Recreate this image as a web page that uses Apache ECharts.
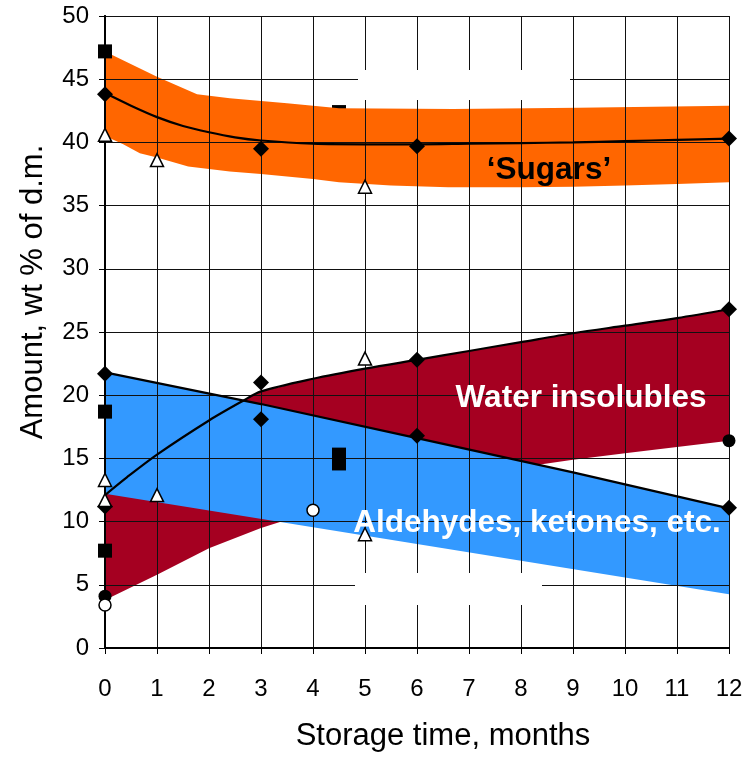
<!DOCTYPE html>
<html><head><meta charset="utf-8">
<script src="https://cdn.jsdelivr.net/npm/echarts@6/dist/echarts.min.js"></script>
<style>html,body{margin:0;padding:0;background:#fff}#c{width:754px;height:757px}</style>
</head><body><div id="c"></div>
<script>
// ---- axis
const xLabels = ['0','1','2','3','4','5','6','7','8','9','10','11','12'];
const yMin = 0, yMax = 50, yStep = 5;

// ---- 'Sugars' band
const sugHiX = [0, 1, 1.77, 2.4, 3.5, 4.5, 6.7, 9.1, 12];
const sugHiY = [47.2, 45.2, 43.8, 43.5, 43.1, 42.7, 42.65, 42.75, 42.9];
const sugLoX = [0, 0.35, 0.67, 1, 1.6, 2.4, 3, 4, 4.5, 5.5, 6.6, 8, 9, 10, 11, 12];
const sugLoY = [40.5, 39.85, 39.15, 38.8, 38.1, 37.7, 37.5, 37.1, 36.85, 36.6, 36.45, 36.45, 36.5, 36.6, 36.7, 36.85];
// 'Sugars' fitted curve
const sugCurveX = [0, 0.5, 1, 1.5, 2, 2.5, 3, 4, 5, 6, 7, 8, 9, 10, 11, 12];
const sugCurveY = [43.9, 42.9, 42.0, 41.3, 40.8, 40.4, 40.15, 39.9, 39.85, 39.85, 39.9, 39.95, 40.0, 40.1, 40.2, 40.3];

// ---- Water insolubles band
const wiHiX = [0, 0.42, 1, 2, 2.63, 3, 4, 5, 6, 7, 8, 9, 10, 11, 12];
const wiHiY = [12.1, 13.5, 15.3, 18.0, 19.5, 20.3, 21.3, 22.1, 22.8, 23.5, 24.2, 24.9, 25.5, 26.1, 26.8];
const wiLoX = [0, 1, 2, 3, 4, 5, 6, 7, 8, 9, 10, 11, 12];
const wiLoY = [3.8, 5.8, 7.9, 9.5, 10.8, 11.9, 12.8, 13.6, 14.3, 14.9, 15.4, 15.9, 16.4];

// ---- Aldehydes, ketones, etc. band
const akHiX = [0, 3, 6, 9, 12];
const akHiY = [21.8, 19.3, 16.6, 13.9, 11.05];
const akLoX = [0, 12];
const akLoY = [12.2, 4.25];

// ---- measured points
const diamondPts = [[0,43.8],[3,39.5],[6,39.7],[12,40.3],[0,21.7],[3,21.0],[3,18.1],[6,22.8],[6,16.8],[12,26.8],[12,11.1],[0,11.2]];
const squarePts = [[0,47.2],[0,18.7],[4.5,15.3],[4.5,14.6],[0,7.7]];
const hiddenSquarePts = [[4.5,42.4]];
const trianglePts = [[0,40.6],[1,38.6],[5,36.5],[0,13.3],[0,11.7],[1,12.1],[5,22.9],[5,9.0]];
const dotPts = [[0,4.1],[12,16.4]];
const ringPts = [[0,3.4],[4,10.9]];

const FONT = '"Liberation Sans", Arial, sans-serif';

function zip(xs, ys){ return xs.map((x,i)=>[x, ys[i]]); }

function band(name, hiX, hiY, loX, loY, color){
  return {
    type:'custom', name, zlevel:0, z:2, silent:true,
    data:[[hiX[0], hiY[0]]],
    encode:{x:0,y:1},
    renderItem:function(params, api){
      const pts = [];
      for (let i=0;i<hiX.length;i++) pts.push(api.coord([hiX[i], hiY[i]]));
      for (let i=loX.length-1;i>=0;i--) pts.push(api.coord([loX[i], loY[i]]));
      return {type:'polygon', shape:{points:pts}, style:{fill:color, stroke:null}};
    }
  };
}
function curve(xs, ys, smooth){
  return {type:'line', zlevel:1, z:5, data:zip(xs, ys), symbol:'none', smooth:smooth, silent:true,
    lineStyle:{color:'#000', width:2.2}};
}
function pts(data, symbol, size, fill, zl, z){
  return {type:'scatter', zlevel:zl, z:z, data:data, symbol:symbol, symbolSize:size, silent:true,
    itemStyle:{color:fill, borderColor:'#000', borderWidth: fill==='#fff'?1.5:0, opacity:1}};
}

const chart = echarts.init(document.getElementById('c'), null, {renderer:'canvas'});
const axisLabelStyle = {color:'#000', fontFamily:FONT, fontSize:24};
chart.setOption({
  animation:false,
  backgroundColor:'#fff',
  grid:{left:105, right:25, top:16, bottom:102},
  xAxis:[{
    type:'value', min:0, max:12, interval:1, zlevel:1, z:3,
    axisLine:{show:true, onZero:false, lineStyle:{color:'#000', width:2}},
    axisTick:{show:true, length:6, lineStyle:{color:'#000', width:1}},
    axisLabel:Object.assign({margin:29, formatter:v=>xLabels[v]}, axisLabelStyle),
    splitLine:{show:true, lineStyle:{color:'#111', width:1}},
    name:'Storage time, months', nameLocation:'middle', nameGap:73,
    nameTextStyle:{color:'#000', fontFamily:FONT, fontSize:31, padding:[0,0,0,52]}
  },{
    type:'value', min:0, max:12, interval:1, position:'top', zlevel:1, z:3,
    axisLine:{show:true, lineStyle:{color:'#000', width:2}},
    axisTick:{show:false}, axisLabel:{show:false}, splitLine:{show:false}
  }],
  yAxis:[{
    type:'value', min:yMin, max:yMax, interval:yStep, zlevel:1, z:3,
    axisLine:{show:true, onZero:false, lineStyle:{color:'#000', width:2}},
    axisTick:{show:true, length:6, lineStyle:{color:'#000', width:1}},
    axisLabel:Object.assign({margin:16}, axisLabelStyle),
    splitLine:{show:true, lineStyle:{color:'#111', width:1}},
    name:'Amount, wt % of d.m.', nameLocation:'middle', nameGap:56,
    nameTextStyle:{color:'#000', fontFamily:FONT, fontSize:31, padding:[0,0,0,80]}
  },{
    type:'value', min:yMin, max:yMax, interval:yStep, position:'right', zlevel:1, z:3,
    axisLine:{show:true, lineStyle:{color:'#000', width:2}},
    axisTick:{show:false}, axisLabel:{show:false}, splitLine:{show:false}
  }],
  graphic:[
    {type:'rect', zlevel:1, z:4, shape:{x:358, y:70, width:212, height:30}, style:{fill:'#fff'}},
    {type:'rect', zlevel:1, z:4, shape:{x:355, y:573, width:187, height:32}, style:{fill:'#fff'}},
    {type:'text', zlevel:1, z:10, x:549, y:170, style:{text:'\u2018Sugars\u2019', fill:'#000', font:'bold 31.5px '+FONT, align:'center', verticalAlign:'middle'}},
    {type:'text', zlevel:1, z:10, x:581, y:398, style:{text:'Water insolubles', fill:'#fff', font:'bold 31.5px '+FONT, align:'center', verticalAlign:'middle'}},
    {type:'text', zlevel:1, z:10, x:537, y:523, style:{text:'Aldehydes, ketones, etc.', fill:'#fff', font:'bold 31.5px '+FONT, align:'center', verticalAlign:'middle'}}
  ],
  series:[
    pts(hiddenSquarePts, 'rect', 14, '#000', 0, 0),
    band('Water insolubles', wiHiX, wiHiY, wiLoX, wiLoY, '#A50021'),
    band('Aldehydes, ketones, etc.', akHiX, akHiY, akLoX, akLoY, '#3399FF'),
    band('Sugars', sugHiX, sugHiY, sugLoX, sugLoY, '#FF6600'),
    curve(sugCurveX, sugCurveY, 0.3),
    curve(wiHiX, wiHiY, 0.3),
    curve(akHiX, akHiY, false),
    pts(squarePts, 'rect', 14, '#000', 1, 6),
    pts(diamondPts, 'diamond', 16, '#000', 1, 6),
    pts(trianglePts, 'triangle', 13, '#fff', 1, 6),
    pts(dotPts, 'circle', 13, '#000', 1, 6),
    pts(ringPts, 'circle', 12, '#fff', 1, 6)
  ]
});
</script>
</body></html>
